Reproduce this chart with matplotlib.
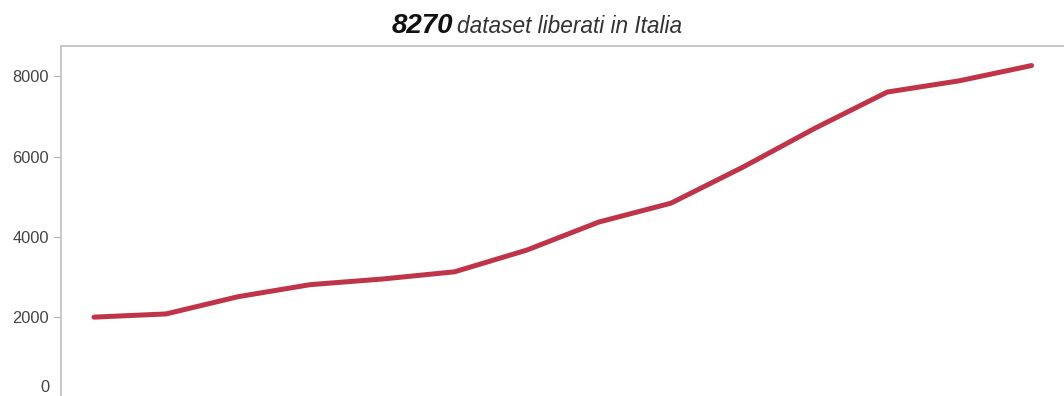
import matplotlib.pyplot as plt
from matplotlib.transforms import ScaledTranslation

plt.rcParams['font.family'] = ['Liberation Sans', 'DejaVu Sans']

# dataset counts over time
steps = list(range(14))
datasets = [2000, 2080, 2510, 2810, 2950, 3130, 3670, 4370, 4840, 5740, 6710, 7610, 7890, 8270]
yticks = [0, 2000, 4000, 6000, 8000]
total = datasets[-1]

fig = plt.figure(figsize=(10.64, 3.96), dpi=100)
ax = fig.add_axes([61 / 1064, -4 / 396, 1 - 61 / 1064, 354 / 396])

ax.plot(steps, datasets, color="#c0344a", linewidth=3.6, solid_capstyle="round",
        solid_joinstyle="round")

ax.set_xlim(-0.457, 13.45)
ax.set_ylim(-65, 8757)
ax.set_yticks(yticks)
ax.set_xticks([])

for side in ["right", "bottom"]:
    ax.spines[side].set_visible(False)
for side in ["left", "top"]:
    ax.spines[side].set_color("#c4c4c4")
    ax.spines[side].set_linewidth(1.3)

ax.tick_params(axis="y", length=5, width=0.8, color="#b0b0b0", labelsize=11.8,
               labelcolor="#444444", pad=3.5)

# bottom label sits a bit higher than its tick in the original
zero_lbl = ax.get_yticklabels()[0]
zero_lbl.set_transform(zero_lbl.get_transform() + ScaledTranslation(0, 0.11, fig.dpi_scale_trans))
ax.yaxis.get_major_ticks()[0].tick1line.set_visible(False)

# title: bold number + italic text
fig.text(453 / 1064, 1 - 33 / 396, f"{total}", fontsize=20, fontweight="bold",
         fontstyle="italic", color="#111111", ha="right", va="baseline")
fig.text(457 / 1064, 1 - 33 / 396, "dataset liberati in Italia", fontsize=16.3,
         fontstyle="italic", color="#333333", ha="left", va="baseline")

fig.savefig("out.png", dpi=100)
